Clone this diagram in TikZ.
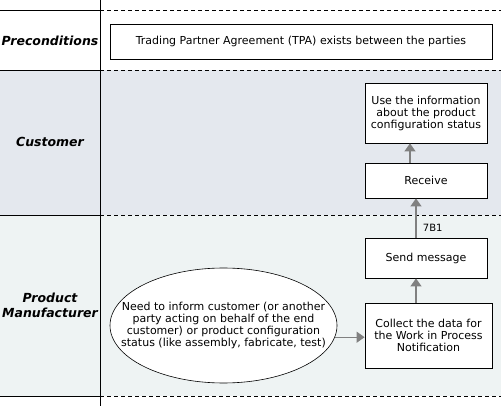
\documentclass[tikz,border=0pt]{standalone}
\usepackage{fontspec}
\setmainfont{DejaVu Sans}
\usetikzlibrary{arrows.meta,shapes.geometric}
\definecolor{custbg}{RGB}{228,232,238}
\definecolor{manubg}{RGB}{238,243,243}
\definecolor{arrgray}{RGB}{128,128,128}
\tikzset{
  lane/.style={font=\fontsize{12.5}{15}\selectfont\bfseries\itshape, align=center},
  boxnode/.style={draw=black, fill=white, line width=0.8pt, align=center, font=\fontsize{11}{12}\selectfont, inner sep=0pt},
  flow/.style={draw=arrgray, line width=1.2pt, -{Triangle[length=8pt,width=11pt]}},
  sep/.style={line width=0.8pt},
  dsep/.style={line width=0.8pt, dash pattern=on 4pt off 3pt}
}
\begin{document}
\begin{tikzpicture}[x=1pt,y=-1pt]
\useasboundingbox (0,0) rectangle (501,406);
\fill[custbg] (0,70) rectangle (501,215);
\fill[manubg] (0,215) rectangle (501,396);
% separators
\foreach \yy in {10,70,215,396}{
  \draw[sep] (0,\yy) -- (100,\yy);
  \draw[dsep] (100,\yy) -- (501,\yy);
}
\draw[sep] (100,0) -- (100,406);
% lane labels
\node[lane] (lpre) at (50,41) {Preconditions};
\node[lane] (lcus) at (50,142) {Customer};
\node[lane] (lman) at (50,305) {Product\\Manufacturer};
% boxes
\node[boxnode, minimum width=382pt, minimum height=35pt] (tpa) at (301,41.5) {Trading Partner Agreement (TPA) exists between the parties};
\node[boxnode, minimum width=122pt, minimum height=60pt] (use) at (426,113) {Use the information\\about the product\\configuration status};
\node[boxnode, minimum width=122pt, minimum height=35pt] (recv) at (426,180.5) {Receive};
\node[boxnode, minimum width=122pt, minimum height=40pt] (send) at (426,258) {Send message};
\node[boxnode, minimum width=127pt, minimum height=65pt] (coll) at (428.5,335.5) {Collect the data for\\the Work in Process\\Notification};
\node[ellipse, draw=black, fill=white, line width=0.6pt, minimum width=227pt, minimum height=115pt, inner sep=0pt] (need) at (223.5,325.5) {};
\node[align=center, font=\fontsize{11}{11.7}\selectfont, inner sep=0pt] (needtext) at (need.center) {Need to inform customer (or another\\party acting on behalf of the end\\customer) or product configuration\\status (like assembly, fabricate, test)};
% connectors
\draw[flow] (need.-6.44) -- (need.-6.44 -| coll.west);
\draw[flow] (coll.north -| 416,0) -- (send.south -| 416,0);
\draw[flow] (send.north -| 416,0) -- node[pos=0.25, right, font=\fontsize{10}{11}\selectfont, xshift=3pt] (lbl) {7B1} (recv.south -| 416,0);
\draw[flow] (recv.north -| 410,0) -- (use.south -| 410,0);
\end{tikzpicture}
\end{document}
